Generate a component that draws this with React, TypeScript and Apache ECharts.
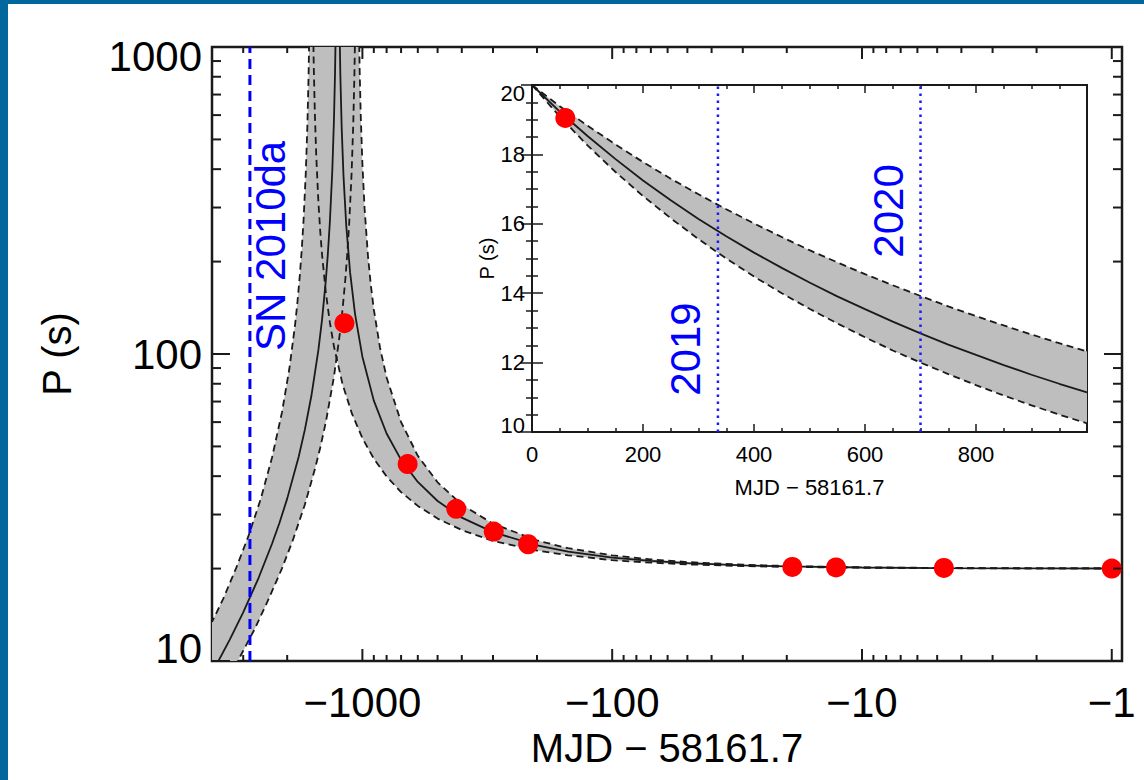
import React, { useEffect, useRef } from 'react';
import * as echarts from 'echarts';

// ---------- Main panel data (|MJD - 58161.7| in days, P in s) ----------
const MID_LEFT_T = [1277, 1287, 1300, 1320, 1350, 1375, 1400, 1450, 1500, 1600, 1700, 1800, 2000, 2150, 2300, 2600, 3000, 3400, 3800, 4000];
const MID_LEFT_P = [1213, 818, 575, 394, 268, 211.6, 174.8, 129.7, 103.1, 73.1, 56.6, 46.2, 33.8, 28.1, 24.1, 18.7, 14.4, 11.72, 9.88, 9.16];
const MID_RIGHT_T = [1235, 1225, 1210, 1190, 1160, 1120, 1070, 1000, 900, 800, 700, 600, 500, 400, 300, 200, 150, 100, 70, 50, 30, 20, 10, 5, 2, 0.91];
const MID_RIGHT_P = [1181, 803, 543, 379, 261, 184.4, 134.9, 98.0, 70.5, 55.1, 45.2, 38.3, 33.2, 29.3, 26.3, 23.8, 22.7, 21.7, 21.18, 20.83, 20.49, 20.32, 20.16, 20.08, 20.03, 20.01];

const HI_LEFT_T = [1068, 1076, 1088, 1105, 1130, 1150, 1170, 1200, 1230, 1300, 1400, 1475, 1550, 1700, 1900, 2100, 2400, 2700, 3000, 3200, 3600, 4000];
const HI_LEFT_P = [1195, 821, 559, 385, 264, 211, 175.7, 140.4, 117.0, 84.2, 60.1, 49.5, 42.1, 32.3, 24.7, 20.0, 15.6, 12.7, 10.8, 9.77, 8.24, 7.12];
const HI_RIGHT_T = [1033, 1025, 1015, 1000, 980, 950, 925, 900, 850, 800, 700, 600, 500, 400, 300, 200, 150, 100, 70, 50, 30, 20, 10, 5, 2, 0.91];
const HI_RIGHT_P = [1206, 826, 593, 417, 298, 209, 167.5, 139.7, 104.8, 83.9, 60.0, 46.6, 38.2, 32.3, 28.0, 24.7, 23.3, 22.1, 21.43, 21.0, 20.59, 20.39, 20.19, 20.10, 20.04, 20.02];

const LO_LEFT_T = [1629, 1642, 1660, 1685, 1720, 1750, 1780, 1820, 1860, 1960, 2100, 2300, 2550, 2850, 3200, 3600, 4000];
const LO_LEFT_P = [1212, 813, 558, 389, 273, 217.4, 180.6, 147.4, 124.5, 89.7, 64.4, 46.0, 33.8, 25.7, 20.1, 16.0, 13.4];
const LO_RIGHT_T = [1576, 1565, 1550, 1530, 1500, 1475, 1450, 1400, 1350, 1300, 1200, 1100, 1000, 900, 800, 700, 600, 500, 400, 300, 200, 150, 100, 70, 50, 30, 20, 10, 5, 2, 0.91];
const LO_RIGHT_P = [1207, 853, 610, 442, 312.5, 251, 210, 158.2, 126.9, 105.9, 79.6, 63.8, 53.2, 45.6, 39.9, 35.5, 32.0, 29.1, 26.7, 24.6, 22.9, 22.1, 21.3, 20.91, 20.64, 20.38, 20.25, 20.13, 20.06, 20.03, 20.01];

const OBS_T = [1180, 659, 421, 298, 217, 19, 12.7, 4.7, 1.0];
const OBS_P = [126, 43.8, 31.3, 26.4, 24.0, 20.25, 20.18, 20.1, 20.0];

const SN_T = 2820;
const SN_LABEL = 'SN 2010da';
const SN_LABEL_POS = [2334, 225];

const X_MAJOR = [1, 10, 100, 1000];
const X_MINOR = [2, 3, 4, 5, 6, 7, 8, 9, 20, 30, 40, 50, 60, 70, 80, 90, 200, 300, 400, 500, 600, 700, 800, 900, 2000, 3000];
const Y_MAJOR = [10, 100, 1000];
const Y_MINOR = [20, 30, 40, 50, 60, 70, 80, 90, 200, 300, 400, 500, 600, 700, 800, 900];

// ---------- Inset data ----------
const INSET_T = [0, 50, 100, 150, 200, 250, 300, 350, 400, 450, 500, 550, 600, 650, 700, 750, 800, 850, 900, 950, 1000];
const INSET_MID = [20.0, 19.23, 18.53, 17.87, 17.25, 16.68, 16.14, 15.64, 15.17, 14.73, 14.31, 13.91, 13.54, 13.18, 12.84, 12.52, 12.22, 11.93, 11.65, 11.39, 11.14];
const INSET_UP = [20.0, 19.39, 18.83, 18.29, 17.78, 17.3, 16.85, 16.42, 16.01, 15.62, 15.24, 14.89, 14.55, 14.23, 13.92, 13.62, 13.34, 13.07, 12.81, 12.56, 12.32];
const INSET_LO = [20.0, 19.09, 18.26, 17.5, 16.8, 16.16, 15.56, 15.0, 14.48, 14.0, 13.55, 13.13, 12.73, 12.35, 12.0, 11.67, 11.35, 11.05, 10.77, 10.5, 10.25];
const INSET_OBS = [[60, 19.05]];
const YEAR_T = [335, 700];
const YEAR_LABELS = ['2019', '2020'];
const YEAR_LABEL_POS = [[276, 12.39], [643, 16.37]];

// ---------- style ----------
const FONT = '"Liberation Sans", Arial, Helvetica, sans-serif';
const INK = '#1a1a1a';
const BAND = '#bebebe';
const BLUE = '#0000ff';
const FRAME = '#02679c';
const X_MIN = 0.91;
const X_MAX = 4000;
const Y_MIN = 10;
const Y_MAX = 1000;

const pairs = (ts: number[], ps: number[]) => ts.map((t, i) => [t, ps[i]]);
const isDecade = (v: number) => {
  const l = Math.log10(v);
  return Math.abs(l - Math.round(l)) < 1e-6;
};

function lineSeries(data: number[][], dashed: boolean, xi = 0, yi = 0, width = 1.8) {
  return {
    type: 'line',
    xAxisIndex: xi,
    yAxisIndex: yi,
    data,
    showSymbol: false,
    symbol: 'none',
    silent: true,
    z: 3,
    lineStyle: { color: INK, width, type: dashed ? [7, 4.5] : 'solid', opacity: 1 },
  };
}

function fillSeries(pts: number[][], xi = 0, yi = 0) {
  return {
    type: 'custom',
    xAxisIndex: xi,
    yAxisIndex: yi,
    silent: true,
    clip: true,
    z: 1,
    data: pts,
    renderItem: (p: any, api: any) =>
      p.dataIndex === 0
        ? { type: 'polygon', shape: { points: pts.map((q) => api.coord(q)) }, style: { fill: BAND } }
        : null,
  };
}

function xTicks(values: number[], len: number) {
  return {
    type: 'custom',
    xAxisIndex: 0,
    yAxisIndex: 0,
    silent: true,
    clip: false,
    z: 8,
    data: values.map((v) => [v, Y_MIN]),
    renderItem: (_p: any, api: any) => {
      const v = api.value(0);
      const b = api.coord([v, Y_MIN]);
      const t = api.coord([v, Y_MAX]);
      const st = { stroke: INK, lineWidth: 2 };
      return {
        type: 'group',
        children: [
          { type: 'line', shape: { x1: b[0], y1: b[1], x2: b[0], y2: b[1] - len }, style: st },
          { type: 'line', shape: { x1: t[0], y1: t[1], x2: t[0], y2: t[1] + len }, style: st },
        ],
      };
    },
  };
}

function yTicks(values: number[], len: number) {
  return {
    type: 'custom',
    xAxisIndex: 0,
    yAxisIndex: 0,
    silent: true,
    clip: false,
    z: 8,
    data: values.map((v) => [X_MIN, v]),
    renderItem: (_p: any, api: any) => {
      const v = api.value(1);
      const a = api.coord([X_MIN, v]);
      const b = api.coord([X_MAX, v]);
      const l = Math.min(a[0], b[0]);
      const r = Math.max(a[0], b[0]);
      const st = { stroke: INK, lineWidth: 2 };
      return {
        type: 'group',
        children: [
          { type: 'line', shape: { x1: l, y1: a[1], x2: l + len, y2: a[1] }, style: st },
          { type: 'line', shape: { x1: r, y1: a[1], x2: r - len, y2: a[1] }, style: st },
        ],
      };
    },
  };
}

function textMark(pos: number[], text: string, xi: number, yi: number, size: number) {
  return {
    type: 'scatter',
    xAxisIndex: xi,
    yAxisIndex: yi,
    silent: true,
    z: 7,
    symbolSize: 1,
    itemStyle: { color: 'rgba(0,0,0,0)', opacity: 1 },
    data: [pos],
    label: {
      show: true,
      formatter: text,
      position: 'inside',
      rotate: 90,
      color: BLUE,
      opacity: 1,
      fontSize: size,
      fontFamily: FONT,
      align: 'center',
      verticalAlign: 'middle',
    },
  };
}

export default function App() {
  const ref = useRef<HTMLDivElement>(null);

  useEffect(() => {
    document.body.style.margin = '0';
    const chart = echarts.init(ref.current!, null, { renderer: 'svg' });

    const leftBand = [...pairs(LO_LEFT_T, LO_LEFT_P), ...pairs(HI_LEFT_T, HI_LEFT_P).reverse()];
    const rightBand = [...pairs(HI_RIGHT_T, HI_RIGHT_P), ...pairs(LO_RIGHT_T, LO_RIGHT_P).reverse()];
    const insetBand = [...pairs(INSET_T, INSET_UP), ...pairs(INSET_T, INSET_LO).reverse()];

    const insetAxisCommon = {
      gridIndex: 1,
      type: 'value',
      axisLine: { show: false },
      splitLine: { show: false },
      minorSplitLine: { show: false },
    };
    const insetTick = { show: true, inside: true, length: 8, lineStyle: { color: INK, width: 1.5 } };
    const insetMinorX = { show: true, splitNumber: 4, length: 4, lineStyle: { color: INK, width: 1.5 } };
    const insetTickY = { show: true, inside: true, length: 11, lineStyle: { color: INK, width: 1.5 } };
    const insetMinorY = { show: true, splitNumber: 4, length: 6, lineStyle: { color: INK, width: 1.5 } };

    const option: any = {
      animation: false,
      backgroundColor: '#ffffff',
      textStyle: { fontFamily: FONT },
      grid: [
        { left: 212, top: 47, width: 910, height: 614, show: true, borderColor: INK, borderWidth: 2.5, backgroundColor: 'transparent' },
        { left: 532, top: 85, width: 555, height: 347, show: true, borderColor: INK, borderWidth: 2, backgroundColor: '#ffffff' },
      ],
      xAxis: [
        {
          gridIndex: 0,
          type: 'log',
          inverse: true,
          min: X_MIN,
          max: X_MAX,
          axisLine: { show: false },
          axisTick: { show: false },
          splitLine: { show: false },
          axisLabel: {
            margin: 20,
            fontSize: 42,
            color: '#000',
            fontFamily: FONT,
            formatter: (v: number) => (isDecade(v) && v >= 0.99 && v < 3000 ? '\u2212' + Math.round(v) : ''),
          },
          name: 'MJD \u2212 58161.7',
          nameLocation: 'middle',
          nameGap: 66,
          nameTextStyle: { fontSize: 40, color: '#000', fontFamily: FONT },
        },
        {
          ...insetAxisCommon,
          min: 0,
          max: 1000,
          interval: 200,
          axisTick: insetTick,
          minorTick: insetMinorX,
          axisLabel: { margin: 11, fontSize: 22, color: '#000', fontFamily: FONT, showMaxLabel: false },
          name: 'MJD \u2212 58161.7',
          nameLocation: 'middle',
          nameGap: 44,
          nameTextStyle: { fontSize: 22, color: '#000', fontFamily: FONT },
        },
        {
          ...insetAxisCommon,
          position: 'top',
          min: 0,
          max: 1000,
          interval: 200,
          axisTick: insetTick,
          minorTick: insetMinorX,
          axisLabel: { show: false },
        },
      ],
      yAxis: [
        {
          gridIndex: 0,
          type: 'log',
          min: Y_MIN,
          max: Y_MAX,
          axisLine: { show: false },
          axisTick: { show: false },
          splitLine: { show: false },
          axisLabel: {
            margin: 10,
            fontSize: 42,
            color: '#000',
            fontFamily: FONT,
            formatter: (v: number) => {
              if (!isDecade(v)) return '';
              const r = Math.round(v);
              if (r === 1000) return '{top|1000}';
              if (r === 10) return '{bot|10}';
              return String(r);
            },
            rich: {
              top: { padding: [18, 0, 0, 0], fontSize: 42, color: '#000', fontFamily: FONT },
              bot: { padding: [0, 0, 26, 0], fontSize: 42, color: '#000', fontFamily: FONT },
            },
          },
          name: 'P (s)',
          nameLocation: 'middle',
          nameRotate: 90,
          nameGap: 135,
          nameTextStyle: { fontSize: 40, color: '#000', fontFamily: FONT },
        },
        {
          ...insetAxisCommon,
          min: 10,
          max: 20,
          interval: 2,
          axisTick: insetTickY,
          minorTick: insetMinorY,
          axisLabel: {
            margin: 7,
            fontSize: 22,
            color: '#000',
            fontFamily: FONT,
            formatter: (v: number) => (v === 20 ? '{top|20}' : v === 10 ? '{bot|10}' : String(v)),
            rich: {
              top: { padding: [16, 0, 0, 0], fontSize: 22, color: '#000', fontFamily: FONT },
              bot: { padding: [0, 0, 14, 0], fontSize: 22, color: '#000', fontFamily: FONT },
            },
          },
          name: 'P (s)',
          nameLocation: 'middle',
          nameRotate: 90,
          nameGap: 24,
          nameTextStyle: { fontSize: 20, color: '#000', fontFamily: FONT },
        },
        {
          ...insetAxisCommon,
          position: 'right',
          min: 10,
          max: 20,
          interval: 2,
          axisTick: insetTickY,
          minorTick: insetMinorY,
          axisLabel: { show: false },
        },
      ],
      series: [
        // main panel
        fillSeries(leftBand),
        fillSeries(rightBand),
        lineSeries(pairs(LO_LEFT_T, LO_LEFT_P), true),
        lineSeries(pairs(LO_RIGHT_T, LO_RIGHT_P), true),
        lineSeries(pairs(HI_LEFT_T, HI_LEFT_P), true),
        lineSeries(pairs(HI_RIGHT_T, HI_RIGHT_P), true),
        lineSeries(pairs(MID_LEFT_T, MID_LEFT_P), false),
        lineSeries(pairs(MID_RIGHT_T, MID_RIGHT_P), false),
        {
          type: 'scatter',
          xAxisIndex: 0,
          yAxisIndex: 0,
          silent: true,
          z: 5,
          symbolSize: 20,
          itemStyle: { color: '#ff0000', opacity: 1 },
          data: pairs(OBS_T, OBS_P),
        },
        {
          type: 'line',
          xAxisIndex: 0,
          yAxisIndex: 0,
          silent: true,
          z: 6,
          symbol: 'none',
          data: [[SN_T, Y_MIN], [SN_T, Y_MAX]],
          lineStyle: { color: BLUE, width: 3, type: [10, 6], opacity: 1 },
        },
        textMark(SN_LABEL_POS, SN_LABEL, 0, 0, 42),
        xTicks(X_MAJOR, 12),
        xTicks(X_MINOR, 6),
        yTicks(Y_MAJOR, 18),
        yTicks(Y_MINOR, 9),
        // inset
        fillSeries(insetBand, 1, 1),
        lineSeries(pairs(INSET_T, INSET_UP), true, 1, 1),
        lineSeries(pairs(INSET_T, INSET_LO), true, 1, 1),
        lineSeries(pairs(INSET_T, INSET_MID), false, 1, 1),
        {
          type: 'scatter',
          xAxisIndex: 1,
          yAxisIndex: 1,
          silent: true,
          z: 5,
          symbolSize: 20,
          itemStyle: { color: '#ff0000', opacity: 1 },
          data: INSET_OBS,
        },
        ...YEAR_T.map((t) => ({
          type: 'line',
          xAxisIndex: 1,
          yAxisIndex: 1,
          silent: true,
          z: 6,
          symbol: 'none',
          data: [[t, 10], [t, 20]],
          lineStyle: { color: '#1a1aff', width: 2.5, type: [2.5, 4.5], cap: 'butt', opacity: 1 },
        })),
        ...YEAR_T.map((_, i) => textMark(YEAR_LABEL_POS[i], YEAR_LABELS[i], 1, 1, 42)),
      ],
    };

    chart.setOption(option);
    return () => chart.dispose();
  }, []);

  return (
    <div style={{ position: 'relative', width: 1144, height: 780, background: '#fff', overflow: 'hidden' }}>
      <div ref={ref} style={{ position: 'absolute', left: 0, top: 0, width: 1144, height: 780 }} />
      <div style={{ position: 'absolute', left: 0, top: 0, width: 8, height: 780, background: FRAME }} />
      <div style={{ position: 'absolute', left: 0, top: 0, width: 1144, height: 4, background: FRAME }} />
    </div>
  );
}
